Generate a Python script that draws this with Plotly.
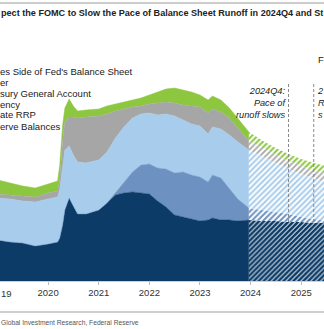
import plotly.graph_objects as go

# ---------------- data ($tn) ----------------
dates_hist = ['2019-01-01','2019-04-01','2019-07-01','2019-10-01','2020-01-01','2020-02-15',
              '2020-03-10','2020-03-25','2020-04-15','2020-05-01','2020-06-01','2020-07-01',
              '2020-08-01','2020-10-01','2021-01-01','2021-03-01','2021-05-01','2021-07-01',
              '2021-09-01','2021-11-01','2022-01-01','2022-03-01','2022-05-01','2022-07-01',
              '2022-09-01','2022-11-01','2023-01-01','2023-03-01','2023-04-01','2023-06-01',
              '2023-08-01','2023-10-01','2023-12-20']
reserves_hist = [1.64,1.56,1.52,1.40,1.48,1.52,1.56,1.72,2.24,2.84,3.32,3.00,2.68,2.68,2.84,3.12,
                 3.44,3.52,3.56,3.52,3.48,3.20,2.96,2.64,2.56,2.48,2.40,2.44,2.52,2.44,2.44,2.40,2.44]
rrp_hist = [0,0,0,0,0,0,0,0,0,0,0,0,0,0,0,0,
            0.08,0.40,0.80,1.12,1.20,1.32,1.52,1.68,1.80,1.76,1.76,1.52,1.72,1.68,1.28,0.88,0.48]
currency_hist = [1.68,1.72,1.68,1.76,1.80,1.80,1.80,1.92,2.40,2.40,2.08,2.04,2.08,2.04,2.00,2.04,
                 2.20,2.24,2.16,2.04,2.04,2.12,2.20,2.28,2.08,2.04,2.04,1.92,1.92,1.96,2.12,2.28,2.32]
tga_hist = [0.16,0.16,0.20,0.20,0.24,0.24,0.24,0.40,1.00,1.12,1.16,1.52,1.76,1.84,1.76,1.52,
            1.08,0.72,0.44,0.32,0.36,0.48,0.48,0.52,0.60,0.72,0.76,0.84,0.72,0.68,0.68,0.56,0.36]
other_hist = [0.56,0.48,0.40,0.36,0.36,0.40,0.40,0.60,0.60,0.56,0.72,0.44,0.28,0.28,0.28,0.32,
              0.28,0.28,0.28,0.32,0.36,0.44,0.52,0.60,0.60,0.56,0.48,0.52,0.52,0.48,0.40,0.40,0.36]

dates_proj = ['2023-12-20','2024-04-01','2024-07-01','2024-10-01','2025-01-01','2025-04-01','2025-07-01']
reserves_proj = [2.44,2.40,2.40,2.36,2.36,2.32,2.32]
rrp_proj = [0.48,0.44,0.36,0.32,0.20,0.16,0.08]
currency_proj = [2.32,2.12,1.96,1.80,1.72,1.64,1.52]
tga_proj = [0.36,0.36,0.32,0.32,0.32,0.32,0.40]
other_proj = [0.36,0.28,0.28,0.28,0.28,0.28,0.28]

tick_years = ['2019','2020','2021','2022','2023','2024','2025']
legend_labels = ["es Side of Fed's Balance Sheet", "er", "sury General Account", "ency", "ate RRP", "erve Balances"]
title_text = "pect the FOMC to Slow the Pace of Balance Sheet Runoff in 2024Q4 and St"
source_text = "Global Investment Research, Federal Reserve"
marker_dates = ['2024-10-01', '2025-04-01']

# ---------------- style ----------------
C_RES = '#0b3b66'
C_RRP = '#6d92c1'
C_CUR = '#a8cdec'
C_TGA = '#a6a6a6'
C_OTH = '#8dc63f'
FONT = 'Arial, Liberation Sans, sans-serif'

W, H = 324, 329
M_T, M_B = 20, 48
PLOT_H = H - M_T - M_B


def py(pix):
    return (H - M_B - pix) / PLOT_H


fig = go.Figure()

hist_series = [(reserves_hist, C_RES), (rrp_hist, C_RRP), (currency_hist, C_CUR),
               (tga_hist, C_TGA), (other_hist, C_OTH)]
for vals, col in hist_series:
    fig.add_trace(go.Scatter(x=dates_hist, y=vals, stackgroup='hist', mode='lines',
                             line=dict(width=0.5, color=col), fillcolor=col,
                             hoverinfo='skip', showlegend=False))

proj_series = [(reserves_proj, C_RES, 0.75, 3.5), (rrp_proj, C_RRP, 0.5, 4), (currency_proj, C_CUR, 0.5, 4),
               (tga_proj, C_TGA, 0.45, 4), (other_proj, C_OTH, 0.5, 4)]
for vals, col, sol, sz in proj_series:
    fig.add_trace(go.Scatter(x=dates_proj, y=vals, stackgroup='proj', mode='lines',
                             line=dict(width=0, color=col),
                             fillpattern=dict(shape='/', fgcolor=col, bgcolor='white',
                                              size=sz, solidity=sol, fillmode='replace'),
                             hoverinfo='skip', showlegend=False))

shapes = []
for d in marker_dates:
    shapes.append(dict(type='line', xref='x', yref='paper', x0=d, x1=d,
                       y0=py(222), y1=py(82), line=dict(color='#8a8a8a', width=1, dash='3px,2px')))
shapes.append(dict(type='line', xref='paper', yref='paper', x0=0, x1=1, y0=py(3), y1=py(3),
                   line=dict(color='#9a9a9a', width=1)))
shapes.append(dict(type='line', xref='paper', yref='paper', x0=0, x1=1, y0=py(312), y1=py(312),
                   line=dict(color='#cfcfcf', width=2)))

annotations = []
annotations.append(dict(xref='paper', yref='paper', x=0, y=py(13), xanchor='left', yanchor='middle',
                        text='<b>' + title_text + '</b>', showarrow=False, xshift=-1,
                        font=dict(family=FONT, size=9.1, color='#222')))
for i, lab in enumerate(legend_labels):
    annotations.append(dict(xref='paper', yref='paper', x=0, y=py(71 + 11 * i), xanchor='left',
                            yanchor='middle', text=lab, showarrow=False, xshift=-2,
                            font=dict(family=FONT, size=9.5, color='#1a1a1a')))
annotations.append(dict(xref='x', yref='paper', x=marker_dates[0], y=py(103), xanchor='right',
                        yanchor='middle', align='right', xshift=-1, showarrow=False,
                        text='<i>2024Q4:<br>Pace of<br>runoff slows</i>',
                        font=dict(family=FONT, size=9.2, color='#222')))
annotations.append(dict(xref='paper', yref='paper', x=1, y=py(103), xanchor='left',
                        yanchor='middle', align='left', xshift=-9, showarrow=False,
                        text='<i>2<br>R<br>s</i>',
                        font=dict(family=FONT, size=9.2, color='#222')))
annotations.append(dict(xref='paper', yref='paper', x=1, y=py(60), xanchor='left', xshift=-8,
                        yanchor='middle', text='F', showarrow=False,
                        font=dict(family=FONT, size=9.5, color='#222')))
annotations.append(dict(xref='paper', yref='paper', x=0, y=py(293), xanchor='left', xshift=-1,
                        yanchor='middle', text='19', showarrow=False,
                        font=dict(family=FONT, size=9.5, color='#333')))
annotations.append(dict(xref='paper', yref='paper', x=0, y=py(322), xanchor='left', xshift=-1,
                        yanchor='middle', text=source_text, showarrow=False,
                        font=dict(family=FONT, size=6.7, color='#555')))

fig.update_layout(
    width=W, height=H,
    margin=dict(l=0, r=0, t=M_T, b=M_B, pad=0),
    plot_bgcolor='white', paper_bgcolor='white',
    showlegend=False,
    shapes=shapes, annotations=annotations,
    xaxis=dict(type='date', range=['2019-01-19', '2025-06-14'],
               tickvals=[y + '-01-01' for y in tick_years], ticktext=tick_years,
               ticks='outside', ticklen=3, tickcolor='#bbb', showgrid=False, zeroline=False,
               showline=True, linecolor='#d0d0d0', linewidth=1,
               tickfont=dict(family=FONT, size=9.5, color='#333')),
    yaxis=dict(range=[0, 10.44], showgrid=False, zeroline=False, showticklabels=False,
               ticks='', showline=False),
)

fig.write_html('out.html')
